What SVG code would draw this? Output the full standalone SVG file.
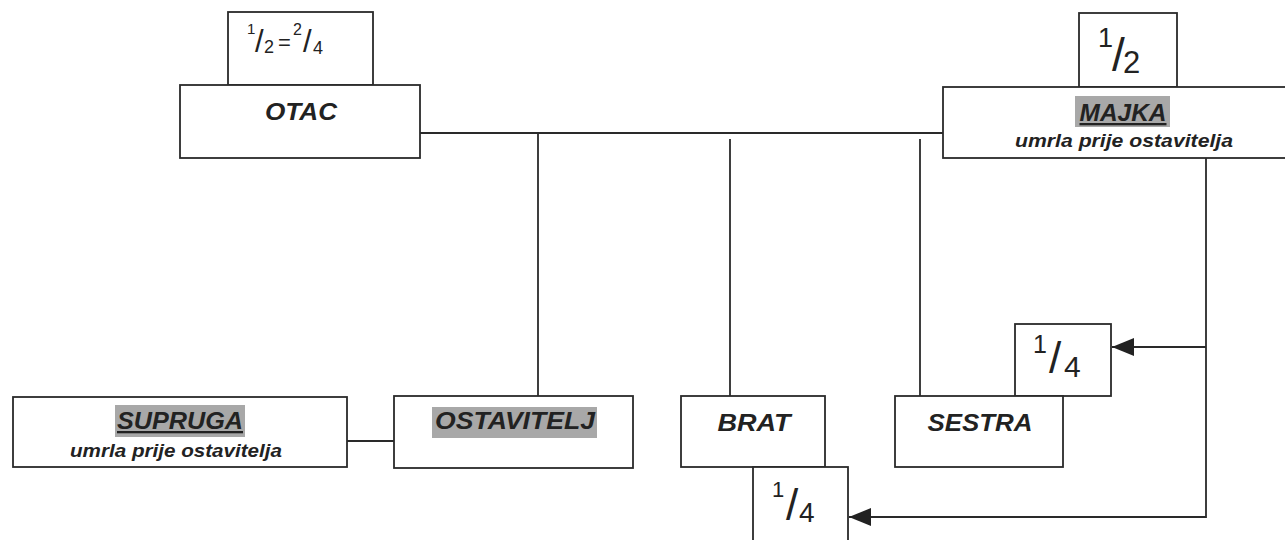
<svg xmlns="http://www.w3.org/2000/svg" width="1285" height="540" viewBox="0 0 1285 540">
<style>
.box{fill:#fff;stroke:#2a2a2a;stroke-width:1.8}
.ln{fill:none;stroke:#2a2a2a;stroke-width:1.8}
.lbl{font-family:"Liberation Sans",Arial,sans-serif;font-weight:bold;font-style:italic;fill:#222;text-anchor:middle;font-size:23px}
.sub{font-family:"Liberation Sans",Arial,sans-serif;font-weight:bold;font-style:italic;fill:#222;text-anchor:middle;font-size:18px}
.frac{font-family:"Liberation Sans",Arial,sans-serif;fill:#222}
.hl{fill:#a8a8a8}
</style>
<defs>
<marker id="ah" markerWidth="22" markerHeight="18" refX="22" refY="9" orient="auto" markerUnits="userSpaceOnUse">
<path d="M0,0 L22,9 L0,18 Z" fill="#222"/>
</marker>
</defs>
<rect width="1285" height="540" fill="#fff"/>
<g id="connectors">
<path class="ln" d="M420,133 H943"/>
<path class="ln" d="M538,133 V396"/>
<path class="ln" d="M730,139 V396"/>
<path class="ln" d="M920,139 V396"/>
<path class="ln" d="M347,441 H394"/>
<path class="ln" d="M1206,158 V517 H849" marker-end="url(#ah)"/>
<path class="ln" d="M1206,347 H1112" marker-end="url(#ah)"/>
</g>
<g id="otac">
<rect class="box" x="228" y="12" width="145" height="73"/>
<text class="frac"><tspan x="247" y="34" font-size="15">1</tspan><tspan x="255" y="52" font-size="31">/</tspan><tspan x="264" y="53" font-size="18">2</tspan><tspan x="278" y="50" font-size="22">=</tspan><tspan x="293" y="35" font-size="16">2</tspan><tspan x="303" y="52" font-size="31">/</tspan><tspan x="313" y="54" font-size="18">4</tspan></text>
<rect class="box" x="180" y="85" width="240" height="73"/>
<text class="lbl" x="301" y="120" font-size="24" textLength="72" lengthAdjust="spacingAndGlyphs">OTAC</text>
</g>
<g id="majka">
<rect class="box" x="1079" y="13" width="98" height="74"/>
<text class="frac"><tspan x="1098" y="47" font-size="27">1</tspan><tspan x="1112" y="71" font-size="46">/</tspan><tspan x="1123" y="73" font-size="31">2</tspan></text>
<rect class="box" x="943" y="87" width="380" height="71"/>
<rect class="hl" x="1075" y="96" width="95" height="31"/>
<text class="lbl" x="1123" y="121" textLength="87" lengthAdjust="spacingAndGlyphs" text-decoration="underline">MAJKA</text>
<text class="sub" x="1124" y="147" textLength="218" lengthAdjust="spacingAndGlyphs">umrla prije ostavitelja</text>
</g>
<g id="supruga">
<rect class="box" x="13" y="397" width="334" height="70"/>
<rect class="hl" x="115" y="405" width="130" height="32"/>
<text class="lbl" x="180" y="429" textLength="126" lengthAdjust="spacingAndGlyphs" text-decoration="underline">SUPRUGA</text>
<text class="sub" x="176" y="457" textLength="212" lengthAdjust="spacingAndGlyphs">umrla prije ostavitelja</text>
</g>
<g id="ostavitelj">
<rect class="box" x="394" y="396" width="239" height="72"/>
<rect class="hl" x="432" y="407" width="165" height="31"/>
<text class="lbl" x="515" y="429" textLength="160" lengthAdjust="spacingAndGlyphs">OSTAVITELJ</text>
</g>
<g id="brat">
<rect class="box" x="681" y="396" width="144" height="71"/>
<text class="lbl" x="754" y="431" textLength="73" lengthAdjust="spacingAndGlyphs">BRAT</text>
<rect class="box" x="753" y="467" width="95" height="80"/>
<text class="frac"><tspan x="772" y="497" font-size="22">1</tspan><tspan x="786" y="520" font-size="44">/</tspan><tspan x="799" y="522" font-size="28">4</tspan></text>
</g>
<g id="sestra">
<rect class="box" x="1015" y="324" width="96" height="72"/>
<text class="frac"><tspan x="1033" y="353" font-size="25">1</tspan><tspan x="1049" y="373" font-size="44">/</tspan><tspan x="1064" y="377" font-size="30">4</tspan></text>
<rect class="box" x="895" y="396" width="168" height="71"/>
<text class="lbl" x="980" y="431" textLength="105" lengthAdjust="spacingAndGlyphs">SESTRA</text>
</g>
</svg>
